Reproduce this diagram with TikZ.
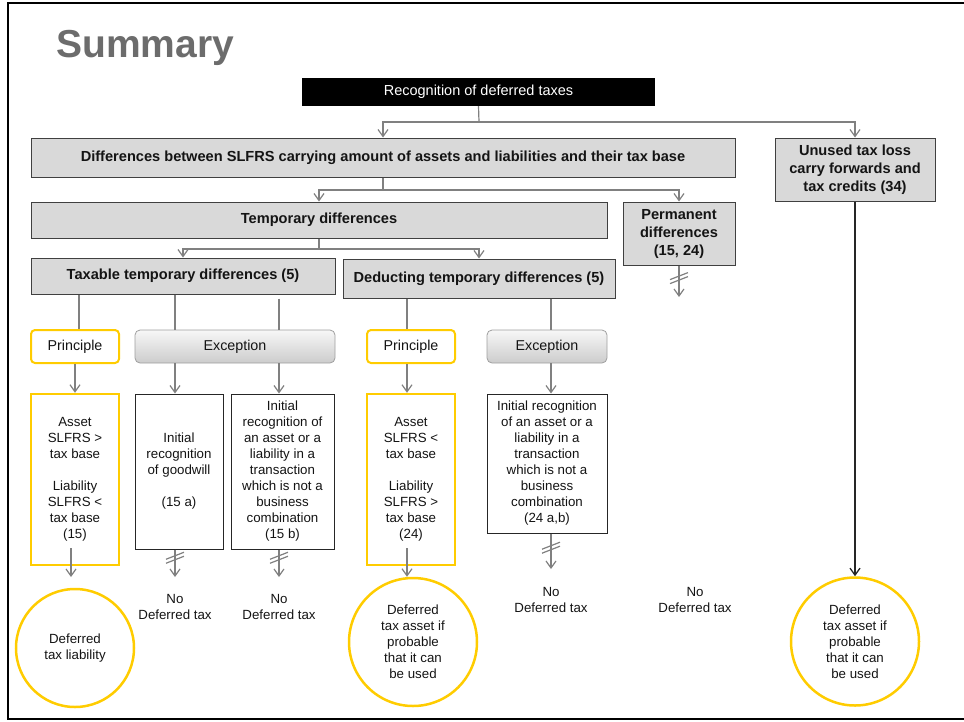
\documentclass[tikz,border=0pt]{standalone}
\usepackage{fontspec}
\setmainfont{Liberation Sans}
\usetikzlibrary{arrows.meta,calc}
\definecolor{ygold}{RGB}{255,204,0}
\definecolor{boxgray}{RGB}{217,217,217}
\definecolor{edgegray}{RGB}{64,64,64}
\definecolor{conngray}{RGB}{128,128,128}
\definecolor{titlegray}{RGB}{108,108,108}
\definecolor{txt}{RGB}{20,20,20}
\begin{document}
\begin{tikzpicture}[x=1pt,y=-1pt,
  font=\fontsize{13.3}{16}\selectfont, text=txt,
  graybox/.style={draw=edgegray, line width=1pt, fill=boxgray, inner sep=0pt, align=center,
    font=\fontsize{14.6}{18}\selectfont\bfseries},
  blackbox/.style={fill=black, text=white, inner sep=0pt, font=\fontsize{14.5}{16}\selectfont},
  principlebox/.style={draw=ygold, line width=2pt, rounded corners=4pt, fill=white, inner sep=0pt,
    minimum width=88pt, minimum height=33pt, font=\fontsize{14.3}{16}\selectfont},
  exceptionbox/.style={draw=gray!75, line width=0.8pt, rounded corners=5pt, top color=gray!6,
    bottom color=gray!40, inner sep=0pt, minimum height=33pt, font=\fontsize{14.3}{16}\selectfont},
  yellowrect/.style={draw=ygold, line width=2.5pt, fill=white, inner sep=0pt, align=center},
  plainrect/.style={draw=black!85, line width=1pt, fill=white, inner sep=0pt, align=center},
  yellowcircle/.style={circle, draw=ygold, line width=2.5pt, inner sep=0pt, align=center},
  notext/.style={align=center, inner sep=0pt},
  conn/.style={draw=conngray, line width=1.2pt},
  arr/.style={conn, -{Straight Barb[length=7pt,width=10pt]}},
  blackarr/.style={draw=black!85, line width=1.3pt, -{Straight Barb[length=7pt,width=10pt]}},
  strike/.style={draw=conngray, line width=1.2pt}
]
\useasboundingbox (0,0) rectangle (964,721);
% frame
\draw[line width=2pt] (966,3) -- (8,3) -- (8,719) -- (966,719);

% title
\node[anchor=base west, inner sep=0pt, text=titlegray, font=\fontsize{39}{40}\selectfont\bfseries] (title) at (56,57) {Summary};

% nodes
\node[blackbox, minimum width=353pt, minimum height=28pt] (rec) at (478.5,92) {Recognition of deferred taxes};
\node[graybox, minimum width=704pt, minimum height=39pt] (diff) at (383,157.5)
  {Differences between SLFRS carrying amount of assets and liabilities and their tax base};
\node[graybox, minimum width=160pt, minimum height=63pt] (unused) at (855,169.5)
  {Unused tax loss\\carry forwards and\\tax credits (34)};
\node[graybox, minimum width=576pt, minimum height=36pt] (temp) at (319,220) {Temporary differences};
\node[graybox, minimum width=112pt, minimum height=63pt] (perm) at (679,233.5)
  {Permanent\\differences\\(15, 24)};
\node[graybox, minimum width=304pt, minimum height=36pt] (taxable) at (183,276)
  {Taxable temporary differences (5)};
\node[graybox, minimum width=272pt, minimum height=39pt] (deduct) at (479,278.5)
  {Deducting temporary differences (5)};

\node[principlebox] (princ1) at (75,346.5) {Principle};
\node[exceptionbox, minimum width=200pt] (exc1) at (235,346.5) {Exception};
\node[principlebox] (princ2) at (411,346.5) {Principle};
\node[exceptionbox, minimum width=120pt] (exc2) at (547,346.5) {Exception};

\node[yellowrect, minimum width=88pt, minimum height=171pt] (asset1) at (75,479.5)
  {Asset\\SLFRS >\\tax base\\[16pt]Liability\\SLFRS <\\tax base\\(15)};
\node[plainrect, minimum width=88pt, minimum height=155pt] (good) at (179,471.5)
  {Initial\\recognition\\of goodwill\\[16pt](15 a)};
\node[plainrect, minimum width=103pt, minimum height=155pt] (init1) at (282.5,471.5)
  {Initial\\recognition of\\an asset or a\\liability in a\\transaction\\which is not a\\business\\combination\\(15 b)};
\node[yellowrect, minimum width=88pt, minimum height=171pt] (asset2) at (411,479.5)
  {Asset\\SLFRS <\\tax base\\[16pt]Liability\\SLFRS >\\tax base\\(24)};
\node[plainrect, minimum width=120pt, minimum height=139pt] (init2) at (547,463.5)
  {Initial recognition\\of an asset or a\\liability in a\\transaction\\which is not a\\business\\combination\\(24 a,b)};

\node[yellowcircle, minimum size=118pt] (circ1) at (75,648) {Deferred\\tax liability};
\node[yellowcircle, minimum size=128pt] (circ2) at (413,642) {Deferred\\tax asset if\\probable\\that it can\\be used};
\node[yellowcircle, minimum size=128pt] (circ3) at (855,641.5) {Deferred\\tax asset if\\probable\\that it can\\be used};

\node[notext] (no1) at (175,607) {No\\Deferred tax};
\node[notext] (no2) at (279,607) {No\\Deferred tax};
\node[notext] (no3) at (551,600) {No\\Deferred tax};
\node[notext] (no4) at (695,600) {No\\Deferred tax};

% helper coordinates
\coordinate (j1) at (479,122);
\coordinate (j2) at (383,190);
\coordinate (j3) at (319,249);
\coordinate (e1a) at (175,0);
\coordinate (e1b) at (279,0);
\coordinate (d1) at (407,0);
\coordinate (d2) at (551,0);
\coordinate (pend) at (679,297);
\coordinate (g1end) at (175,577);
\coordinate (g2end) at (279,577);
\coordinate (g3end) at (551,569);
\coordinate (a1end) at (71,577);

% top level connectors
\draw[conn] (rec.south) -- (j1);
\draw[arr] (j1) -| (diff.north);
\draw[arr] (j1) -| (unused.north);
\draw[conn] (diff.south) -- (j2);
\draw[arr] (j2) -| (temp.north);
\draw[arr] (j2) -| (perm.north);
\draw[conn] (temp.south) -- (j3);
\draw[arr] (j3) -| (taxable.north);
\draw[arr] (j3) -| (deduct.north);

% permanent: crossed arrow
\draw[arr] (perm.south) -- coordinate[pos=0.4] (sp) (pend);
\draw[strike] ([xshift=-9pt,yshift=-5.5pt]sp) -- ([xshift=9pt,yshift=1.5pt]sp);
\draw[strike] ([xshift=-9pt,yshift=-1.5pt]sp) -- ([xshift=9pt,yshift=5.5pt]sp);

% taxable branch
\draw[conn] ([xshift=4pt]princ1.north |- taxable.south) -- ([xshift=4pt]princ1.north);
\draw[conn] (taxable.south -| e1a) -- (exc1.north -| e1a);
\draw[conn] ([yshift=-4pt]taxable.south -| e1b) -- (exc1.north -| e1b);
\draw[arr] (princ1.south) -- (asset1.north);
\draw[arr] (exc1.south -| e1a) -- (good.north -| e1a);
\draw[arr] (exc1.south -| e1b) -- (init1.north -| e1b);
\draw[arr] ([xshift=-4pt,yshift=18pt]asset1.south) -- (a1end);

\draw[arr] (good.south -| e1a) -- coordinate[pos=0.3] (s1) (g1end);
\draw[strike] ([xshift=-9pt,yshift=-5.5pt]s1) -- ([xshift=9pt,yshift=1.5pt]s1);
\draw[strike] ([xshift=-9pt,yshift=-1.5pt]s1) -- ([xshift=9pt,yshift=5.5pt]s1);
\draw[arr] (init1.south -| e1b) -- coordinate[pos=0.3] (s2) (g2end);
\draw[strike] ([xshift=-9pt,yshift=-5.5pt]s2) -- ([xshift=9pt,yshift=1.5pt]s2);
\draw[strike] ([xshift=-9pt,yshift=-1.5pt]s2) -- ([xshift=9pt,yshift=5.5pt]s2);

% deducting branch
\draw[conn] (deduct.south -| d1) -- (princ2.north -| d1);
\draw[conn] (deduct.south -| d2) -- (exc2.north -| d2);
\draw[arr] (princ2.south -| d1) -- (asset2.north -| d1);
\draw[arr] (exc2.south -| d2) -- (init2.north -| d2);
\draw[arr] ([yshift=18pt]asset2.south -| d1) -- (circ2.north -| d1);
\draw[arr] (init2.south -| d2) -- coordinate[pos=0.4] (s3) (g3end);
\draw[strike] ([xshift=-9pt,yshift=-5.5pt]s3) -- ([xshift=9pt,yshift=1.5pt]s3);
\draw[strike] ([xshift=-9pt,yshift=-1.5pt]s3) -- ([xshift=9pt,yshift=5.5pt]s3);

% unused branch
\draw[blackarr] (unused.south) -- (circ3.north);
\end{tikzpicture}
\end{document}
